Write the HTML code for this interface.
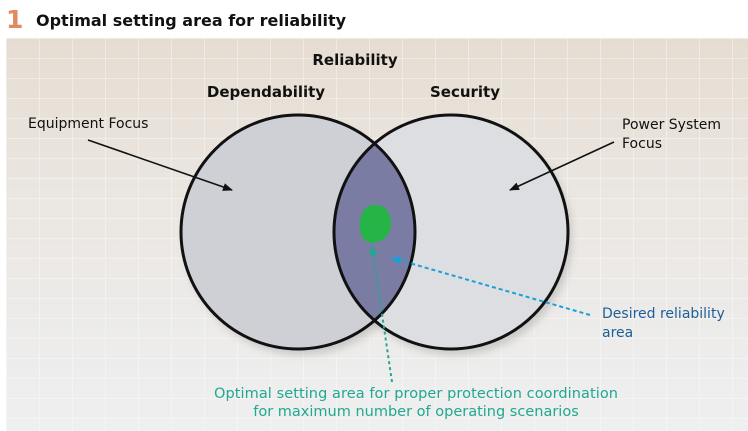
<!DOCTYPE html>
<html><head><style>
html,body{margin:0;padding:0;background:#fff;width:748px;height:431px;overflow:hidden}
svg{display:block}
text{font-family:"DejaVu Sans","Liberation Sans",sans-serif}
</style></head><body>
<svg width="748" height="431" viewBox="0 0 748 431">
<defs>
<linearGradient id="bg" x1="0" y1="0" x2="0" y2="1">
<stop offset="0" stop-color="#e6ddd2"/><stop offset="0.5" stop-color="#ebe8e4"/><stop offset="1" stop-color="#eeeff0"/>
</linearGradient>
<pattern id="grid" width="33" height="20" patternUnits="userSpaceOnUse" x="6" y="38">
<path d="M0 0V20M0 0H33" stroke="#ffffff" stroke-opacity="0.6" stroke-width="1.2" fill="none"/>
</pattern>
<clipPath id="lc"><circle cx="298" cy="232" r="117"/></clipPath>
<filter id="sh" x="-20%" y="-20%" width="140%" height="140%"><feGaussianBlur stdDeviation="4"/></filter>
<marker id="ab" markerWidth="10" markerHeight="8" refX="9" refY="4" orient="auto" markerUnits="userSpaceOnUse"><path d="M0 0L10 4L0 8z" fill="#111"/></marker>
<marker id="ablu" markerWidth="10" markerHeight="8" refX="9" refY="4" orient="auto" markerUnits="userSpaceOnUse"><path d="M0 0L10 4L0 8z" fill="#1aa0d8"/></marker>
<marker id="ateal" markerWidth="10" markerHeight="8" refX="9" refY="4" orient="auto" markerUnits="userSpaceOnUse"><path d="M0 0L10 4L0 8z" fill="#20a890"/></marker>
</defs>
<rect x="6" y="38" width="742" height="393" fill="url(#bg)"/>
<rect x="6" y="38" width="742" height="393" fill="url(#grid)"/>
<text x="6" y="28" font-size="25" font-weight="bold" fill="#e08a62">1</text>
<text x="36" y="26" font-size="16" font-weight="bold" fill="#111">Optimal setting area for reliability</text>
<text x="355" y="65" font-size="15" font-weight="bold" text-anchor="middle" fill="#111">Reliability</text>
<text x="266" y="97" font-size="15" font-weight="bold" text-anchor="middle" fill="#111">Dependability</text>
<text x="465" y="97" font-size="15" font-weight="bold" text-anchor="middle" fill="#111">Security</text>
<text x="28" y="128" font-size="14" fill="#111">Equipment Focus</text>
<text x="622" y="129" font-size="14" fill="#111">Power System</text>
<text x="622" y="148" font-size="14" fill="#111">Focus</text>
<circle cx="302" cy="238" r="117" fill="#888" opacity="0.35" filter="url(#sh)"/>
<circle cx="455" cy="238" r="117" fill="#888" opacity="0.35" filter="url(#sh)"/>
<circle cx="298" cy="232" r="117" fill="#cfd0d5"/>
<circle cx="451" cy="232" r="117" fill="#dcdee1"/>
<circle cx="451" cy="232" r="117" fill="#7a7ca4" clip-path="url(#lc)"/>
<circle cx="298" cy="232" r="117" fill="none" stroke="#111" stroke-width="3"/>
<circle cx="451" cy="232" r="117" fill="none" stroke="#111" stroke-width="3"/>
<path d="M374 205 C386 204 392 214 391 226 C390 236 382 242 373 243 C363 243 359 233 360 222 C361 212 366 205 374 205z" fill="#25b445"/>
<line x1="88" y1="140" x2="232" y2="190" stroke="#111" stroke-width="1.6" marker-end="url(#ab)"/>
<line x1="614" y1="142" x2="510" y2="190" stroke="#111" stroke-width="1.6" marker-end="url(#ab)"/>
<line x1="590" y1="315" x2="392" y2="258" stroke="#1aa0d8" stroke-width="2" stroke-dasharray="4,3" marker-end="url(#ablu)"/>
<line x1="392" y1="382" x2="372" y2="246" stroke="#20a890" stroke-width="2" stroke-dasharray="3,3" marker-end="url(#ateal)"/>
<text x="602" y="318" font-size="14" fill="#1d5f9a">Desired reliability</text>
<text x="602" y="337" font-size="14" fill="#1d5f9a">area</text>
<text x="416" y="398" font-size="14.5" text-anchor="middle" fill="#20a890" textLength="404">Optimal setting area for proper protection coordination</text>
<text x="416" y="416" font-size="14.5" text-anchor="middle" fill="#20a890">for maximum number of operating scenarios</text>
</svg>
</body></html>
